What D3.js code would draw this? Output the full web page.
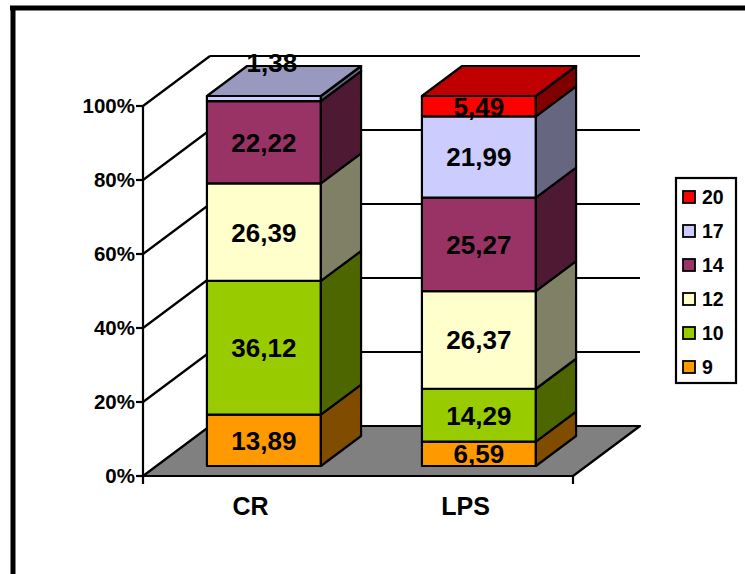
<!DOCTYPE html>
<html>
<head>
<meta charset="utf-8">
<script src="https://cdn.jsdelivr.net/npm/d3@7"></script>
<style>
  html, body { margin: 0; padding: 0; background: #fff; }
  svg { display: block; font-family: "Liberation Sans", Arial, sans-serif; font-weight: bold; }
</style>
</head>
<body>
<svg id="chart" width="745" height="574"></svg>
<script>
// Categories (columns) and series (stack order, bottom to top)
const categories = ["CR", "LPS"];
const seriesNames = ["9", "10", "12", "14", "17", "20"];
const values9  = [13.89, 6.59];
const values10 = [36.12, 14.29];
const values12 = [26.39, 26.37];
const values14 = [22.22, 25.27];
const values17 = [1.38, 21.99];
const values20 = [0, 5.49];
const tickValues = [0, 20, 40, 60, 80, 100];

// Face colours per series: front, side (darker), top
const frontColors = ["#FF9900", "#99CC00", "#FFFFCC", "#993366", "#CCCCFF", "#FF0000"];
const sideColors  = ["#804D00", "#4D6600", "#808066", "#4D1933", "#666680", "#800000"];
const topColors   = ["#BF7300", "#739900", "#BFBF99", "#732650", "#9999C0", "#C00000"];

const seriesValues = [values9, values10, values12, values14, values17, values20];

const svg = d3.select("#chart");

// Outer frame (top and left edges visible)
svg.append("line").attr("x1", 10).attr("x2", 745).attr("y1", 8).attr("y2", 8)
  .attr("stroke", "#000").attr("stroke-width", 5);
svg.append("line").attr("x1", 13).attr("x2", 13).attr("y1", 6).attr("y2", 574)
  .attr("stroke", "#000").attr("stroke-width", 5);

// Oblique projection: front plane scales plus a depth vector
const x = d3.scaleBand().domain(categories).range([143, 573])
  .paddingInner(0.47).paddingOuter(0.235);
const y = d3.scaleLinear().domain([0, 100]).range([476, 106]);
const depth = [67, -50];
const d0 = 0.2, d1 = 0.8;          // bar front/back depth fractions
const P = (px, py, d) => [px + depth[0] * d, py + depth[1] * d];
const poly = pts => pts.map(p => p.join(",")).join(" ");

const x0 = x.range()[0], x1 = x.range()[1];
const lw = 2.2;

// Floor
svg.append("polygon")
  .attr("points", poly([P(x0, y(0), 0), P(x1, y(0), 0), P(x1, y(0), 1), P(x0, y(0), 1)]))
  .attr("fill", "#808080").attr("stroke", "#000").attr("stroke-width", lw)
  .attr("stroke-linejoin", "round");

// Back-wall gridlines and side-wall diagonals
const grid = svg.append("g");
tickValues.filter(t => t > 0).forEach(t => {
  const a = P(x0, y(t), 1), b = P(x1, y(t), 1), c = P(x0, y(t), 0);
  grid.append("line").attr("x1", a[0]).attr("y1", a[1]).attr("x2", b[0]).attr("y2", b[1])
    .attr("stroke", "#000").attr("stroke-width", lw);
  grid.append("line").attr("x1", c[0]).attr("y1", c[1]).attr("x2", a[0]).attr("y2", a[1])
    .attr("stroke", "#000").attr("stroke-width", lw);
});

// Value axis with percent ticks
const axisG = svg.append("g");
axisG.append("line").attr("x1", x0).attr("x2", x0).attr("y1", y(100)).attr("y2", y(0) + 8)
  .attr("stroke", "#000").attr("stroke-width", lw);
tickValues.forEach(t => {
  axisG.append("line").attr("x1", x0 - 7).attr("x2", x0).attr("y1", y(t)).attr("y2", y(t))
    .attr("stroke", "#000").attr("stroke-width", lw);
  axisG.append("text").attr("x", x0 - 8).attr("y", y(t)).attr("dy", "0.36em")
    .attr("text-anchor", "end").attr("font-size", 20.5).text(t + "%");
});
// Category axis
axisG.append("line").attr("x1", x0).attr("x2", x1).attr("y1", y(0)).attr("y2", y(0))
  .attr("stroke", "#000").attr("stroke-width", lw);
axisG.append("line").attr("x1", x1).attr("x2", x1).attr("y1", y(0)).attr("y2", y(0) + 8)
  .attr("stroke", "#000").attr("stroke-width", lw);
categories.forEach(c => {
  axisG.append("text").attr("x", x(c) + x.bandwidth() / 2).attr("y", 515)
    .attr("text-anchor", "middle").attr("font-size", 25).text(c);
});

// Stacked 3D columns
const stack = categories.map((c, ci) => {
  let base = 0;
  return seriesNames.map((s, si) => {
    const v = seriesValues[si][ci];
    const seg = { cat: c, si, v, y0: base, y1: base + v };
    base += v;
    return seg;
  }).filter(d => d.v > 0);
});

const bars = svg.append("g");
const labels = svg.append("g");
stack.forEach(segs => {
  segs.forEach((d, i) => {
    const bx0 = x(d.cat), bx1 = x(d.cat) + x.bandwidth();
    const fl = P(bx0, y(d.y0), d0), fr = P(bx1, y(d.y0), d0);
    const tl = P(bx0, y(d.y1), d0), tr = P(bx1, y(d.y1), d0);
    const br = P(bx1, y(d.y0), d1), btr = P(bx1, y(d.y1), d1), btl = P(bx0, y(d.y1), d1);
    const g = bars.append("g").attr("stroke", "#000").attr("stroke-width", lw)
      .attr("stroke-linejoin", "round");
    g.append("polygon").attr("points", poly([fl, fr, tr, tl])).attr("fill", frontColors[d.si]);
    g.append("polygon").attr("points", poly([fr, br, btr, tr])).attr("fill", sideColors[d.si]);
    if (i === segs.length - 1) {
      g.append("polygon").attr("points", poly([tl, tr, btr, btl])).attr("fill", topColors[d.si]);
    }
    // Value label: centred on the front face; thin slices sit above the column
    let lx = (tl[0] + tr[0]) / 2, ly = (tl[1] + fl[1]) / 2;
    if (d.v < 3) { lx += 8; ly = btl[1] - 3; }
    labels.append("text").attr("x", lx).attr("y", ly).attr("dy", "0.36em")
      .attr("text-anchor", "middle").attr("font-size", 26)
      .text(d3.format(".2f")(d.v).replace(".", ","));
  });
});

// Legend (top entry = last series)
const legend = svg.append("g");
legend.append("rect").attr("x", 676).attr("y", 178).attr("width", 60).attr("height", 205)
  .attr("fill", "#fff").attr("stroke", "#000").attr("stroke-width", lw);
const legendOrder = seriesNames.map((s, i) => i).reverse();
const ly = d3.scalePoint().domain(legendOrder).range([197, 367]);
legendOrder.forEach(si => {
  legend.append("rect").attr("x", 683).attr("y", ly(si) - 6).attr("width", 12).attr("height", 12)
    .attr("fill", frontColors[si]).attr("stroke", "#000").attr("stroke-width", 1.8);
  legend.append("text").attr("x", 702).attr("y", ly(si)).attr("dy", "0.36em")
    .attr("font-size", 19.5).text(seriesNames[si]);
});
</script>
</body>
</html>
